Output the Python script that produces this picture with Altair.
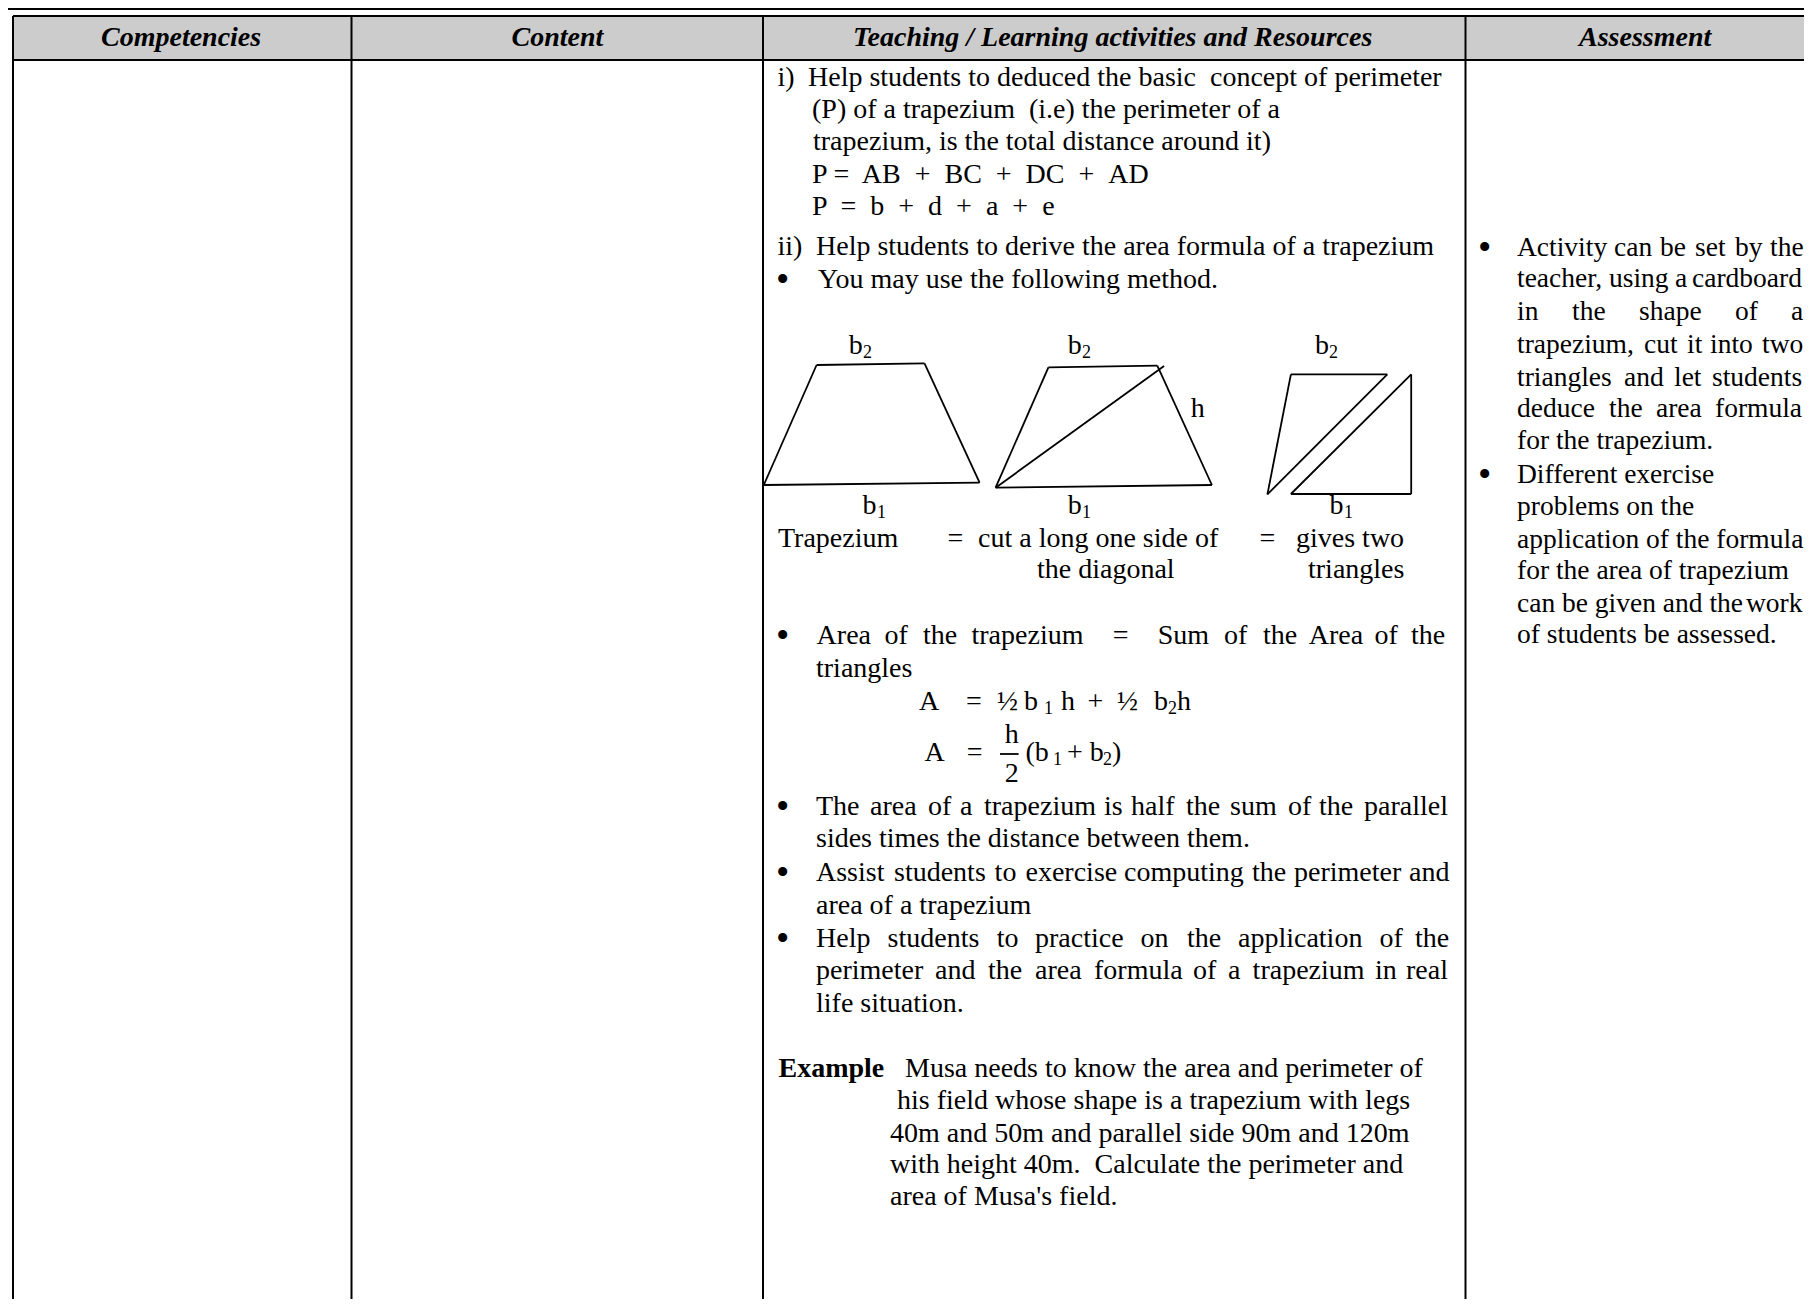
import altair as alt
import pandas as pd

FONT = "Liberation Serif"
BODY_SIZE = 28
RIGHT_SIZE = 27.5
SUB_SIZE = 18
BULLET_SIZE = 38
NB = "\u00a0"

# Table frame
frame_x = [13, 351.5, 763, 1465.5, 13, 13, 8]
frame_y = [16, 16, 16, 16, 16, 60, 9]
frame_x2 = [13, 351.5, 763, 1465.5, 1804, 1804, 1804]
frame_y2 = [1299, 1299, 1299, 1299, 16, 60, 9]

# Header band
band_x = [13]
band_x2 = [1804]
band_y = [16]
band_y2 = [60]

# Header labels
head_text = ["Competencies", "Content", "Teaching / Learning activities and Resources", "Assessment"]
head_x = [101, 511.5, 853, 1579]
head_y = [45.5, 45.5, 45.5, 45.5]

# Centre column, unjustified lines and fragments
c_text = ["i)", "Help students to deduced the basic " + NB + "concept of perimeter",
          "(P) of a trapezium " + NB + "(i.e) the perimeter of a",
          "trapezium, is the total distance around it)",
          "P =" + NB + " AB " + NB + "+ " + NB + "BC " + NB + "+ " + NB + "DC " + NB + "+ " + NB + "AD",
          "P " + NB + "= " + NB + "b " + NB + "+ " + NB + "d " + NB + "+ " + NB + "a " + NB + "+ " + NB + "e",
          "ii)", "Help students to derive the area formula of a trapezium",
          "You may use the following method.",
          "h", "Trapezium", "=", "cut a long one side of", "=", "gives two",
          "the diagonal", "triangles",
          "triangles",
          "A", "=", "½", "h", "+", "½", "h",
          "A", "=", "h", "2", "(b", "+", "b", ")",
          "sides times the distance between them.", "area of a trapezium", "life situation."]
c_x = [777.5, 808, 812, 813, 812, 812, 777.5, 816, 818,
       1190.8, 778, 947.4, 978, 1259.6, 1296, 1037, 1308,
       816,
       919, 966, 997, 1061, 1087.5, 1117, 1177,
       924.5, 966.7, 1004.8, 1004.8, 1025.5, 1067, 1089.8, 1112,
       816, 816, 816]
c_y = [86, 86, 118, 150, 182.7, 215, 255, 255, 288,
       417, 546.7, 546.7, 546.7, 546.7, 546.7, 578, 578,
       676.7,
       710, 710, 710, 710, 710, 710, 710,
       760.7, 760.7, 743, 781.7, 760.7, 760.7, 760.7, 760.7,
       847, 914, 1011.7]

# Bullets
bullet_text = ["•", "•", "•", "•", "•", "•", "•"]
bullet_x = [776, 776, 776, 776, 776, 1478, 1478]
bullet_y = [292, 648, 819, 885, 951, 260, 487]

# Base letters of b1 / b2 labels and their subscripts
b_text = ["b", "b", "b", "b", "b", "b", "b", "b"]
b_x = [848.7, 1067.7, 1315, 862.5, 1067.7, 1329.4, 1024, 1154]
b_y = [354, 354, 354, 514, 514, 514, 710, 710]
sub_text = ["2", "2", "2", "1", "1", "1", "1", "2", "1", "2"]
sub_x = [863, 1082, 1329, 877, 1082, 1344, 1044, 1168, 1053, 1103]
sub_y = [358, 358, 358, 518, 518, 518, 714, 714, 765, 765]

# Justified lines, word by word
j_text = ["Area", "of", "the", "trapezium", "=", "Sum", "of", "the", "Area", "of", "the",
          "The", "area", "of", "a", "trapezium", "is", "half", "the", "sum", "of", "the", "parallel",
          "Assist", "students", "to", "exercise", "computing", "the", "perimeter", "and",
          "Help", "students", "to", "practice", "on", "the", "application", "of", "the",
          "perimeter", "and", "the", "area", "formula", "of", "a", "trapezium", "in", "real"]
j_x = [816.6, 884.5, 923, 971.5, 1112.7, 1157.7, 1224, 1263, 1308.7, 1374.4, 1411,
       816, 870, 928, 960, 984, 1104, 1131, 1186, 1230, 1288, 1319, 1364,
       816, 894, 994.6, 1025.5, 1124, 1252, 1294, 1409,
       816, 887.6, 996.7, 1035, 1140.5, 1187, 1238, 1379.5, 1415,
       816, 935, 988, 1035, 1094, 1193, 1228, 1252.6, 1375, 1406]
j_y = [644] * 11 + [815] * 12 + [881] * 8 + [947] * 9 + [979] * 10

# Example block
ex_text = ["Musa needs to know the area and perimeter of",
           "his field whose shape is a trapezium with legs",
           "40m and 50m and parallel side 90m and 120m",
           "with height 40m. " + NB + "Calculate the perimeter and",
           "area of Musa's field."]
ex_x = [905, 897, 890, 890, 890]
ex_y = [1077, 1109, 1141.7, 1173, 1205]
bold_text = ["Example"]
bold_x = [778.5]
bold_y = [1077]

# Assessment column
r_text = ["Activity", "can", "be", "set", "by", "the",
          "teacher,", "using", "a", "cardboard",
          "in", "the", "shape", "of", "a",
          "trapezium,", "cut", "it", "into", "two",
          "triangles", "and", "let", "students",
          "deduce", "the", "area", "formula",
          "for the trapezium.",
          "Different exercise", "problems on the", "application of the formula",
          "for the area of trapezium", "can be given and the", "work", "of students be assessed."]
r_x = [1517, 1614, 1660, 1695, 1735, 1770,
       1517, 1609, 1675, 1692,
       1517, 1572, 1639, 1735, 1791,
       1517, 1644, 1687, 1710, 1762,
       1517, 1624, 1674, 1712,
       1517, 1609, 1656, 1715,
       1517,
       1517, 1517, 1517, 1517, 1517, 1746, 1517]
r_y = [256] * 6 + [287] * 4 + [320] * 5 + [353] * 5 + [386] * 4 + [417] * 4 + [449] + \
      [483, 515, 548, 579, 612, 612, 643]

# Hand-drawn figures
fig_x = [763.8, 816.6, 924.5, 979.6,
         995.6, 1048.4, 1157.3, 1211.9, 995.6,
         1290.9, 1387.3, 1267.4,
         1411.2, 1411.2, 1290.9,
         1000]
fig_y = [485, 365, 363.3, 482.7,
         487.7, 367.3, 365.7, 485, 487.7,
         374.3, 374.3, 494.3,
         374.3, 494, 494,
         754]
fig_x2 = [816.6, 924.5, 979.6, 763.8,
          1048.4, 1157.3, 1211.9, 995.6, 1164.1,
          1387.3, 1267.4, 1290.9,
          1411.2, 1290.9, 1411.2,
          1018.6]
fig_y2 = [365, 363.3, 482.7, 485,
          367.3, 365.7, 485, 487.7, 366,
          374.3, 494.3, 374.3,
          494, 494, 374.3,
          754]

X = alt.Scale(domain=[8, 1804], range=[0, 1796], nice=False, zero=False)
Y = alt.Scale(domain=[8, 1299], range=[0, 1291], nice=False, zero=False)


def xe(f):
    return alt.X(f, type="quantitative", scale=X, axis=None)


def ye(f):
    return alt.Y(f, type="quantitative", scale=Y, axis=None)


def text_layer(texts, xs, ys, size=BODY_SIZE, **kw):
    df = pd.DataFrame({"t": texts, "x": xs, "y": ys})
    return alt.Chart(df).mark_text(font=FONT, fontSize=size, align="left", baseline="alphabetic",
                                   color="#000000", **kw).encode(x=xe("x"), y=ye("y"), text="t:N")


def rule_layer(xs, ys, x2s, y2s, width):
    df = pd.DataFrame({"x": xs, "y": ys, "x2": x2s, "y2": y2s})
    return alt.Chart(df).mark_rule(color="#000000", strokeWidth=width).encode(
        x=xe("x"), y=ye("y"), x2="x2:Q", y2="y2:Q")


band = alt.Chart(pd.DataFrame({"x": band_x, "x2": band_x2, "y": band_y, "y2": band_y2})).mark_rect(
    color="#cccccc").encode(x=xe("x"), y=ye("y"), x2="x2:Q", y2="y2:Q")

chart = alt.layer(
    band,
    rule_layer(frame_x, frame_y, frame_x2, frame_y2, 2),
    rule_layer(fig_x, fig_y, fig_x2, fig_y2, 1.8),
    text_layer(head_text, head_x, head_y, fontStyle="italic", fontWeight="bold"),
    text_layer(c_text, c_x, c_y),
    text_layer(bullet_text, bullet_x, bullet_y, size=BULLET_SIZE),
    text_layer(b_text, b_x, b_y),
    text_layer(sub_text, sub_x, sub_y, size=SUB_SIZE),
    text_layer(j_text, j_x, j_y),
    text_layer(ex_text, ex_x, ex_y),
    text_layer(bold_text, bold_x, bold_y, fontWeight="bold"),
    text_layer(r_text, r_x, r_y, size=RIGHT_SIZE),
).properties(width=1796, height=1291, padding=0, background="#ffffff",
             autosize=alt.AutoSizeParams(type="none")).configure_view(strokeWidth=0)

chart.save("out.html", embed_options={"renderer": "svg", "actions": False})
